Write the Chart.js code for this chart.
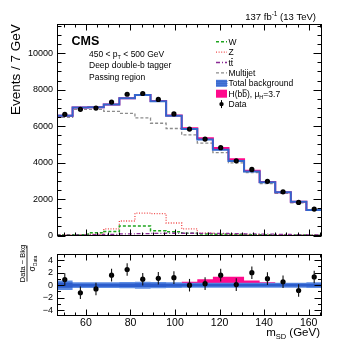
<!DOCTYPE html>
<html><head><meta charset="utf-8">
<script src="https://cdn.jsdelivr.net/npm/chart.js@4.4.0/dist/chart.umd.min.js"></script>
<style>
html,body{margin:0;padding:0;background:#fff;}
#wrap{position:relative;width:357px;height:347px;overflow:hidden;background:#fff;}
#top{position:absolute;left:0;top:0;width:357px;height:245px;}
#bot{position:absolute;left:0;top:245px;width:357px;height:102px;}
</style></head><body>
<div id="wrap"><div id="top"><canvas id="c1" width="357" height="245"></canvas></div><div id="bot"><canvas id="c2" width="357" height="102"></canvas></div></div>
<script>
// ---------------- data ----------------
const massCenters = [50.5,57.5,64.5,71.5,78.5,85.5,92.5,99.5,106.5,113.5,120.5,127.5,134.5,141.5,148.5,155.5,162.5];
const binWidth = 7;
const dataCounts = [6650,6920,6990,7320,7750,7790,7465,6670,5840,5290,4820,4100,3630,2975,2400,1820,1455];
const totalBkg   = [6577,7020,7040,7183,7530,7706,7370,6572,5840,5272,4709,4094,3510,2918,2373,1856,1405];
const multijet   = [6480,6920,6920,6810,6700,6450,6160,5870,5520,5075,4550,3990,3450,2850,2320,1800,1380];
const wBoson     = [30,50,150,230,530,530,270,210,130,90,70,55,45,40,35,30,25];
const zBoson     = [25,40,80,370,800,1230,1200,690,370,130,90,70,55,45,35,30,25];
const ttbar      = [30,40,50,70,90,110,120,130,130,125,115,105,95,80,65,55,45];
const higgsSignal= [0,0,0,0,0,5,10,15,43,69,92,85,46,26,10,5,0];
const bkgUncSigma= [0.75,0.45,0.45,0.45,0.5,0.55,0.5,0.45,0.4,0.4,0.4,0.4,0.4,0.4,0.4,0.4,0.45];
const yTicksMain = [0,2000,4000,6000,8000,10000];
const yTicksRatio= [-4,-2,0,2,4];
const xTicks     = [60,80,100,120,140,160];
const xRange = [47,166];
const yRangeMain = [0,11600];
const yRangeRatio = [-4.9,4.9];

// ---------------- styles ----------------
const FONT = '"Liberation Sans", Arial, sans-serif';
const C_W='#1fa51f', C_Z='#f04a4a', C_TT='#8a2a95', C_QCD='#8c8c8c', C_BKG='#3366cc', C_BKGBAND='rgba(120,160,235,0.6)', C_SIG='#ff0a8c';
const D_W=[3,2], D_Z=[1,1.6], D_TT=[4,2,1,2], D_QCD=[3,2];

// ---------------- helpers ----------------
function steps(vals){
  const pts = vals.map((v,i)=>({x: massCenters[i]-binWidth/2, y: v}));
  pts.push({x: massCenters[vals.length-1]+binWidth/2, y: vals[vals.length-1]});
  return pts;
}
const sq = dataCounts.map(d=>Math.sqrt(d));
const ratioVals = dataCounts.map((d,i)=>(d-totalBkg[i])/sq[i]);
const ratioSig = higgsSignal.map((s,i)=>s/sq[i]);
const bkgPlusSig = totalBkg.map((b,i)=>b+higgsSignal[i]);
const bandLo = totalBkg.map((b,i)=>b-bkgUncSigma[i]*sq[i]);
const bandHi = totalBkg.map((b,i)=>b+bkgUncSigma[i]*sq[i]);

function rich(ctx, parts, x, y, align){
  let w=0;
  parts.forEach(p=>{ctx.font=(p.b?'bold ':'')+p.s+'px '+FONT; p.w=ctx.measureText(p.t).width; w+=p.w;});
  let cx = align==='right'? x-w : align==='center'? x-w/2 : x;
  ctx.textAlign='left'; ctx.textBaseline='alphabetic';
  parts.forEach(p=>{
    ctx.font=(p.b?'bold ':'')+p.s+'px '+FONT;
    ctx.fillText(p.t, cx, y+(p.dy||0));
    if(p.o){ ctx.fillRect(cx+0.3, y+(p.dy||0)-p.s*0.86, p.w-0.6, 0.7); }
    cx+=p.w;
  });
}

function line(ctx,x1,y1,x2,y2){ctx.beginPath();ctx.moveTo(x1,y1);ctx.lineTo(x2,y2);ctx.stroke();}

const rootFrame = {
  id:'rootFrame',
  afterDatasetsDraw(chart, args, o){
    const {ctx, chartArea:a} = chart; const x=chart.scales.x, y=chart.scales.y;
    ctx.save();
    ctx.strokeStyle='#000'; ctx.lineWidth=1;
    const L=Math.round(a.left)+0.5, R=Math.round(a.right)-0.5, T=Math.round(a.top)+0.5, B=Math.round(a.bottom)-0.5;
    ctx.strokeRect(L,T,R-L,B-T);
    for(let k=0;;k++){
      const v=o.xStart+k*o.xStep; if(v>x.max) break;
      const px=Math.round(x.getPixelForValue(v))+0.5;
      const len = o.xMajor.includes(v)? o.xLenMaj : o.xLenMin;
      line(ctx,px,B,px,B-len); line(ctx,px,T,px,T+len);
    }
    for(let k=0;;k++){
      const v=o.yStart+k*o.yStep; if(v>y.max) break;
      if(v<y.min) continue;
      const py=Math.round(y.getPixelForValue(v))+0.5;
      const len = o.yMajor.includes(Math.round(v*1000)/1000)? o.yLenMaj : o.yLenMin;
      line(ctx,L,py,L+len,py); line(ctx,R,py,R-len,py);
    }
    ctx.restore();
  }
};

const errBars = {
  id:'errBars',
  afterDatasetsDraw(chart){
    const ctx=chart.ctx; const x=chart.scales.x, y=chart.scales.y;
    chart.data.datasets.forEach(ds=>{
      if(!ds.errors) return;
      ctx.save(); ctx.strokeStyle='#111'; ctx.lineWidth=1.1;
      ds.data.forEach((p,i)=>{
        const px=x.getPixelForValue(p.x);
        line(ctx,px,y.getPixelForValue(p.y-ds.errors[i]),px,y.getPixelForValue(p.y+ds.errors[i]));
      });
      ctx.restore();
    });
  }
};

const topText = {
  id:'topText',
  afterDraw(chart){
    const ctx=chart.ctx; ctx.save(); ctx.fillStyle='#000';
    rich(ctx,[{t:'137 fb',s:9.5},{t:'-1',s:6.5,dy:-4},{t:' (13 TeV)',s:9.5}],316,19.5,'right');
    rich(ctx,[{t:'CMS',s:12.5,b:true}],71.5,45,'left');
    rich(ctx,[{t:'450 < p',s:8.5},{t:'T',s:5.5,dy:2},{t:' < 500 GeV',s:8.5}],89,56.5,'left');
    rich(ctx,[{t:'Deep double-b tagger',s:8.5}],89,68.3,'left');
    rich(ctx,[{t:'Passing region',s:8.5}],89,80,'left');
    ctx.save(); ctx.translate(19.5,115); ctx.rotate(-Math.PI/2);
    ctx.font='13.5px '+FONT; ctx.textAlign='left'; ctx.textBaseline='alphabetic';
    ctx.fillText('Events / 7 GeV',0,0); ctx.restore();
    const lx0=216, lx1=227, tx=228.5, y0=41.7, dy=10.4;
    const lines=[[C_W,D_W,1.5],[C_Z,D_Z,1.3],[C_TT,D_TT,1.3],[C_QCD,D_QCD,1.3]];
    const labels=[[{t:'W',s:8.5}],[{t:'Z',s:8.5}],[{t:'t',s:8.5},{t:'t',s:8.5,o:true}],[{t:'Multijet',s:8.5}],
      [{t:'Total background',s:8.5}],[{t:'H(b',s:8.5},{t:'b',s:8.5,o:true},{t:'), \u03bc',s:8.5},{t:'H',s:5.5,dy:2},{t:'=3.7',s:8.5}],[{t:'Data',s:8.5}]];
    labels.forEach((lab,i)=>{
      const cy=y0+i*dy;
      if(i<4){ ctx.save(); ctx.strokeStyle=lines[i][0]; ctx.setLineDash(lines[i][1]); ctx.lineWidth=lines[i][2]; line(ctx,lx0,cy,lx1,cy); ctx.restore(); }
      else if(i===4){ ctx.fillStyle='#4a7ada'; ctx.fillRect(lx0,cy-3.5,lx1-lx0,7); ctx.fillStyle='#2a55c0';
        for(let yy=cy-2.5; yy<cy+3.5; yy+=2) for(let xx=lx0+0.5; xx<lx1; xx+=2) ctx.fillRect(xx,yy,1,1); }
      else if(i===5){ ctx.fillStyle=C_SIG; ctx.fillRect(lx0,cy-4,lx1-lx0,8); }
      else { ctx.fillStyle='#000'; ctx.beginPath(); ctx.arc((lx0+lx1)/2,cy,2.2,0,Math.PI*2); ctx.fill();
        ctx.strokeStyle='#000'; ctx.lineWidth=1; line(ctx,(lx0+lx1)/2,cy-4,(lx0+lx1)/2,cy+4); }
      ctx.fillStyle='#000';
      rich(ctx,lab,tx,cy+3.1,'left');
    });
    ctx.restore();
  }
};

const botText = {
  id:'botText',
  afterDraw(chart){
    const ctx=chart.ctx; ctx.save(); ctx.fillStyle='#000';
    const off=245;
    rich(ctx,[{t:'m',s:11.5},{t:'SD',s:7.5,dy:3},{t:' (GeV)',s:11.5}],320,336-off,'right');
    ctx.save(); ctx.translate(27,263.5-off); ctx.rotate(-Math.PI/2);
    rich(ctx,[{t:'Data \u2212 Bkg',s:7.5}],0,-2,'center');
    ctx.fillRect(-18,-0.4,36,0.8);
    rich(ctx,[{t:'\u03c3',s:8.5},{t:'Data',s:5,dy:2}],0,7.5,'center');
    ctx.restore();
    ctx.restore();
  }
};

const stepLine = (data,color,dash,width,order,extra)=>Object.assign({type:'line',data:steps(data),borderColor:color,borderDash:dash||[],borderWidth:width,pointRadius:0,stepped:true,fill:false,order:order,tension:0},extra||{});

// ---------------- main chart ----------------
new Chart(document.getElementById('c1'),{
  type:'line',
  data:{datasets:[
    {type:'line',data:massCenters.map((m,i)=>({x:m,y:dataCounts[i]})),errors:sq,showLine:false,pointRadius:2.6,pointBackgroundColor:'#000',pointBorderWidth:0,order:0},
    stepLine(totalBkg,C_BKG,[],2,1),
    stepLine(bkgPlusSig,C_SIG,[],2,2),
    stepLine(bandLo,'rgba(0,0,0,0)',[],0,3),
    stepLine(bandHi,'rgba(0,0,0,0)',[],0,3,{fill:'-1',backgroundColor:C_BKGBAND}),
    stepLine(multijet,C_QCD,D_QCD,1.3,4),
    stepLine(ttbar,C_TT,D_TT,1.3,5),
    stepLine(wBoson,C_W,D_W,1.5,5),
    stepLine(zBoson,C_Z,D_Z,1.3,5)
  ]},
  options:{
    responsive:false, animation:false, devicePixelRatio:1,
    layout:{padding:{top:24,right:35,bottom:7.7,left:0}},
    plugins:{legend:{display:false},tooltip:{enabled:false},
      rootFrame:{xStart:50,xStep:5,xMajor:xTicks,xLenMaj:6,xLenMin:3,yStart:0,yStep:500,yMajor:yTicksMain,yLenMaj:8,yLenMin:4}},
    scales:{
      x:{type:'linear',min:xRange[0],max:xRange[1],display:false},
      y:{type:'linear',min:yRangeMain[0],max:yRangeMain[1],grid:{display:false,drawTicks:false},border:{display:false},
        ticks:{font:{family:FONT,size:9},color:'#000',padding:4,callback:v=>String(v)},
        afterBuildTicks:s=>{s.ticks=yTicksMain.map(v=>({value:v}));},
        afterFit:s=>{s.width=57;}}
    }
  },
  plugins:[rootFrame,errBars,topText]
});

// ---------------- ratio chart ----------------
new Chart(document.getElementById('c2'),{
  type:'line',
  data:{datasets:[
    {type:'line',data:massCenters.map((m,i)=>({x:m,y:ratioVals[i]})),errors:massCenters.map(()=>1),showLine:false,pointRadius:2.6,pointBackgroundColor:'#000',pointBorderWidth:0,order:0},
    stepLine(bkgUncSigma.map(v=>-v*0.55),'rgba(0,0,0,0)',[],0,1),
    stepLine(bkgUncSigma.map(v=>v*0.55),'rgba(0,0,0,0)',[],0,1,{fill:'-1',backgroundColor:'#2b5ccc'}),
    stepLine(bkgUncSigma.map(v=>-v),'rgba(0,0,0,0)',[],0,2),
    stepLine(bkgUncSigma,'rgba(0,0,0,0)',[],0,2,{fill:'-1',backgroundColor:'#5d8ce3'}),
    stepLine(ratioSig,'rgba(0,0,0,0)',[],0,3,{fill:'origin',backgroundColor:C_SIG})
  ]},
  options:{
    responsive:false, animation:false, devicePixelRatio:1,
    layout:{padding:{top:4,right:35,bottom:0,left:0}},
    plugins:{legend:{display:false},tooltip:{enabled:false},
      rootFrame:{xStart:50,xStep:5,xMajor:xTicks,xLenMaj:6,xLenMin:3,yStart:-4,yStep:1,yMajor:yTicksRatio,yLenMaj:7,yLenMin:3.5}},
    scales:{
      x:{type:'linear',min:xRange[0],max:xRange[1],position:'bottom',grid:{display:false,drawTicks:false},border:{display:false},
        ticks:{font:{family:FONT,size:10.5},color:'#000',padding:1,maxRotation:0,autoSkip:false,callback:v=>String(v)},
        afterBuildTicks:s=>{s.ticks=xTicks.map(v=>({value:v}));},
        afterFit:s=>{s.height=31;}},
      y:{type:'linear',min:yRangeRatio[0],max:yRangeRatio[1],grid:{display:false,drawTicks:false},border:{display:false},
        ticks:{font:{family:FONT,size:9},color:'#000',padding:4,callback:v=>v<0?'\u2212'+Math.abs(v):String(v)},
        afterBuildTicks:s=>{s.ticks=yTicksRatio.map(v=>({value:v}));},
        afterFit:s=>{s.width=57;}}
    }
  },
  plugins:[rootFrame,errBars,botText]
});
</script>
</body></html>
